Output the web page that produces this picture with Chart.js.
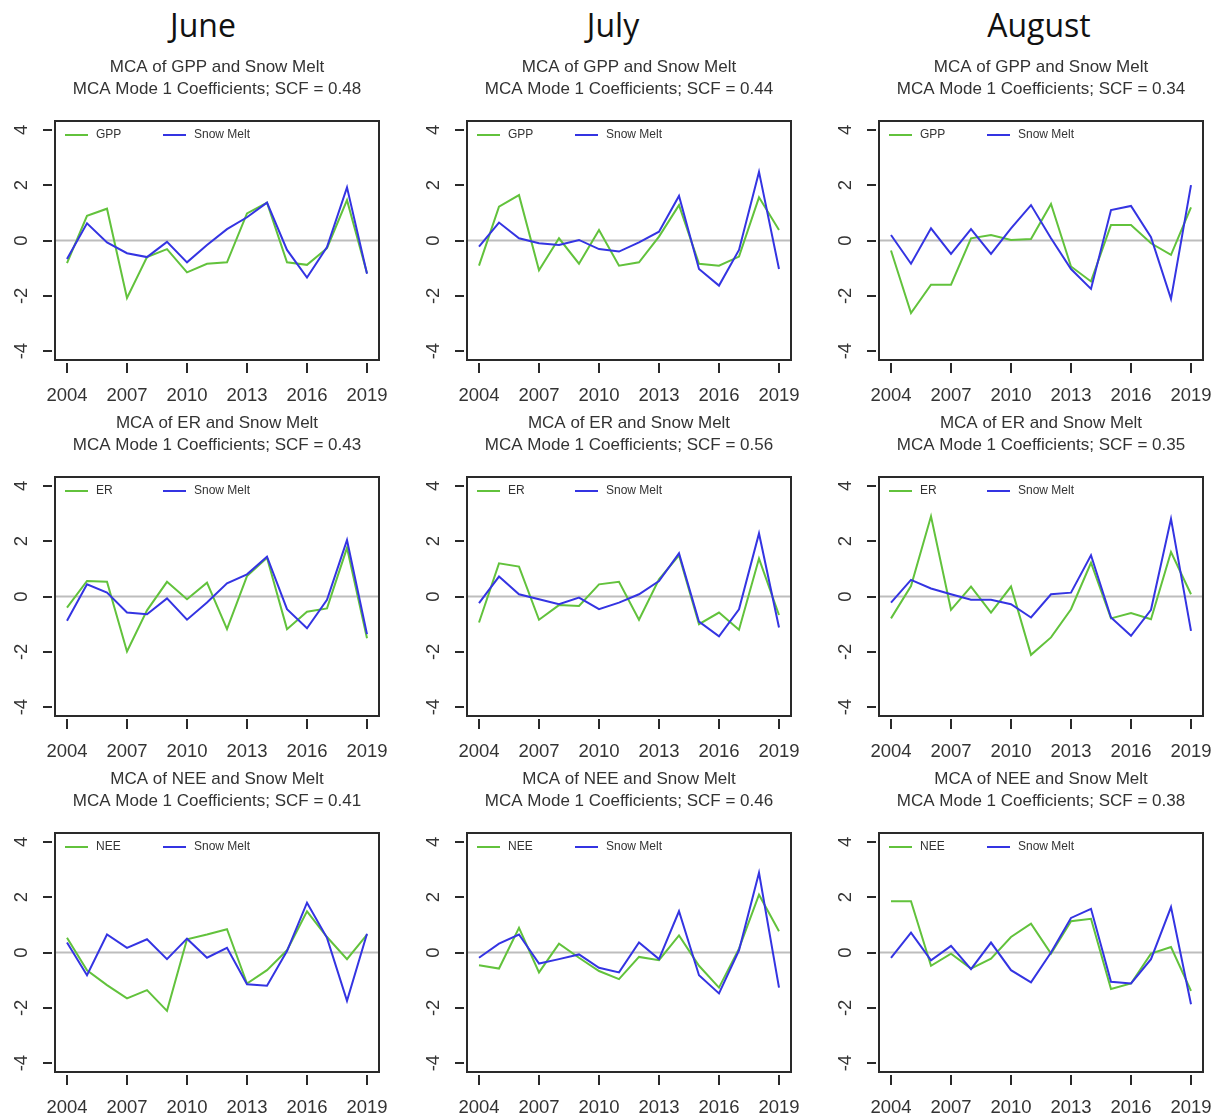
<!DOCTYPE html>
<html>
<head>
<meta charset="utf-8">
<script src="https://cdn.jsdelivr.net/npm/chart.js@4.4.0/dist/chart.umd.min.js"></script>
<style>
  html, body { margin: 0; padding: 0; background: #ffffff; }
  body { width: 1220px; height: 1116px; position: relative; overflow: hidden; }
  .month { position: absolute; top: 4px; font-family: "Open Sans", "DejaVu Sans", sans-serif; font-size: 32px; line-height: 42px; color: #111; transform: translateX(-50%); white-space: nowrap; }
  canvas { position: absolute; }
</style>
</head>
<body>
<script>
// ---------------- data ----------------
const years = [2004, 2005, 2006, 2007, 2008, 2009, 2010, 2011, 2012, 2013, 2014, 2015, 2016, 2017, 2018, 2019];
const xTickYears = [2004, 2007, 2010, 2013, 2016, 2019];
const yTickValues = [-4, -2, 0, 2, 4];
const months = ['June', 'July', 'August'];
const variables = ['GPP', 'ER', 'NEE'];
const snowLabel = 'Snow Melt';

const scfGPP = [0.48, 0.44, 0.34];
const scfER  = [0.43, 0.56, 0.35];
const scfNEE = [0.41, 0.46, 0.38];

const juneGPP      = [-0.82, 0.89, 1.15, -2.08, -0.60, -0.31, -1.15, -0.84, -0.79, 0.98, 1.37, -0.79, -0.88, -0.28, 1.46, -1.18];
const juneGPPSnow  = [-0.67, 0.62, -0.07, -0.46, -0.60, -0.05, -0.79, -0.16, 0.41, 0.84, 1.37, -0.34, -1.34, -0.24, 1.92, -1.20];
const julyGPP      = [-0.91, 1.22, 1.64, -1.08, 0.08, -0.84, 0.38, -0.91, -0.79, 0.14, 1.28, -0.84, -0.91, -0.58, 1.56, 0.38];
const julyGPPSnow  = [-0.22, 0.65, 0.08, -0.10, -0.16, 0.02, -0.31, -0.40, -0.07, 0.32, 1.61, -1.03, -1.63, -0.34, 2.48, -1.03];
const augGPP       = [-0.36, -2.62, -1.60, -1.60, 0.08, 0.20, 0.02, 0.05, 1.32, -0.94, -1.48, 0.56, 0.56, -0.10, -0.52, 1.20];
const augGPPSnow   = [0.20, -0.84, 0.44, -0.48, 0.41, -0.48, 0.44, 1.28, 0.08, -1.03, -1.75, 1.10, 1.25, 0.12, -2.11, 2.00];

const juneER       = [-0.40, 0.56, 0.53, -1.99, -0.50, 0.53, -0.10, 0.50, -1.18, 0.74, 1.40, -1.18, -0.55, -0.43, 1.76, -1.51];
const juneERSnow   = [-0.88, 0.44, 0.14, -0.58, -0.64, -0.07, -0.84, -0.22, 0.48, 0.80, 1.44, -0.46, -1.15, -0.12, 2.04, -1.36];
const julyER       = [-0.94, 1.20, 1.08, -0.84, -0.31, -0.34, 0.44, 0.53, -0.84, 0.62, 1.49, -1.00, -0.58, -1.20, 1.37, -0.67];
const julyERSnow   = [-0.24, 0.72, 0.08, -0.10, -0.28, -0.04, -0.46, -0.22, 0.08, 0.56, 1.56, -0.91, -1.44, -0.46, 2.28, -1.12];
const augER        = [-0.79, 0.38, 2.90, -0.48, 0.36, -0.58, 0.36, -2.11, -1.48, -0.46, 1.22, -0.79, -0.60, -0.82, 1.61, 0.08];
const augERSnow    = [-0.22, 0.60, 0.29, 0.08, -0.12, -0.12, -0.28, -0.76, 0.08, 0.14, 1.49, -0.76, -1.42, -0.48, 2.81, -1.24];

const juneNEE      = [0.53, -0.64, -1.18, -1.66, -1.36, -2.11, 0.48, 0.65, 0.84, -1.12, -0.64, 0.08, 1.49, 0.56, -0.24, 0.65];
const juneNEESnow  = [0.36, -0.82, 0.65, 0.17, 0.48, -0.24, 0.50, -0.19, 0.17, -1.15, -1.20, 0.05, 1.80, 0.53, -1.75, 0.68];
const julyNEE      = [-0.46, -0.58, 0.89, -0.72, 0.32, -0.19, -0.67, -0.96, -0.16, -0.28, 0.62, -0.48, -1.27, 0.14, 2.09, 0.77];
const julyNEESnow  = [-0.19, 0.32, 0.65, -0.40, -0.24, -0.07, -0.55, -0.72, 0.36, -0.24, 1.49, -0.82, -1.48, 0.08, 2.88, -1.27];
const augNEE       = [1.85, 1.85, -0.48, -0.04, -0.58, -0.22, 0.56, 1.04, -0.04, 1.13, 1.22, -1.32, -1.12, -0.04, 0.20, -1.39];
const augNEESnow   = [-0.19, 0.72, -0.28, 0.24, -0.60, 0.36, -0.64, -1.08, 0.00, 1.25, 1.58, -1.06, -1.12, -0.24, 1.64, -1.87];

// ---------------- layout / style ----------------
const GREEN = '#62c23c';
const BLUE = '#3434e2';
const FRAME = '#2a2a2a';
const TEXT = '#333333';
const SANS = '"Liberation Sans", Arial, sans-serif';
const BOX_W = 324, BOX_H = 239;
const PAD_L = 50, PAD_R = 12, TITLE_H = 70, XAXIS_H = 44;
const colLeft = [55, 467, 879];
const rowTop = [121, 477, 833];
const monthCenter = [203, 613, 1039];

months.forEach((m, i) => {
  const d = document.createElement('div');
  d.className = 'month';
  d.style.left = monthCenter[i] + 'px';
  d.textContent = m;
  document.body.appendChild(d);
});

const rFrame = {
  id: 'rFrame',
  beforeDatasetsDraw(chart) {
    const {ctx, chartArea: a, scales: {y}} = chart;
    const y0 = y.getPixelForValue(0);
    ctx.save();
    ctx.strokeStyle = '#bdbdbd';
    ctx.lineWidth = 2;
    ctx.beginPath();
    ctx.moveTo(a.left, y0);
    ctx.lineTo(a.right, y0);
    ctx.stroke();
    ctx.restore();
  },
  afterDatasetsDraw(chart) {
    const {ctx, chartArea: a, scales: {x, y}} = chart;
    ctx.save();
    ctx.strokeStyle = FRAME;
    ctx.lineWidth = 2;
    ctx.strokeRect(a.left, a.top, a.right - a.left, a.bottom - a.top);
    // x tick marks
    ctx.beginPath();
    x.ticks.forEach(t => {
      const px = Math.round(x.getPixelForValue(t.value));
      ctx.moveTo(px, a.bottom + 3);
      ctx.lineTo(px, a.bottom + 13);
    });
    // y tick marks
    yTickValues.forEach(v => {
      const py = Math.round(y.getPixelForValue(v));
      ctx.moveTo(a.left - 3, py);
      ctx.lineTo(a.left - 12, py);
    });
    ctx.stroke();
    // y tick labels (rotated, R style)
    ctx.fillStyle = TEXT;
    ctx.font = '18.5px ' + SANS;
    ctx.textAlign = 'center';
    ctx.textBaseline = 'middle';
    yTickValues.forEach(v => {
      const py = y.getPixelForValue(v);
      ctx.save();
      ctx.translate(a.left - 33, py);
      ctx.rotate(-Math.PI / 2);
      ctx.fillText(String(v), 0, 0);
      ctx.restore();
    });
    // legend inside plot, top-left
    const offs = [10, 108];
    ctx.font = '12px ' + SANS;
    ctx.textAlign = 'left';
    chart.data.datasets.forEach((ds, i) => {
      const x0 = a.left + offs[i];
      const ly = a.top + 14;
      ctx.strokeStyle = ds.borderColor;
      ctx.lineWidth = 2;
      ctx.beginPath();
      ctx.moveTo(x0, ly);
      ctx.lineTo(x0 + 23, ly);
      ctx.stroke();
      ctx.fillStyle = TEXT;
      ctx.fillText(ds.label, x0 + 31, ly);
    });
    ctx.restore();
  }
};

function makePanel(col, row, varName, varVals, snowVals, scf) {
  const cv = document.createElement('canvas');
  const w = PAD_L + BOX_W + PAD_R;
  const h = TITLE_H + BOX_H + XAXIS_H;
  cv.width = w; cv.height = h;
  cv.style.width = w + 'px'; cv.style.height = h + 'px';
  cv.style.left = (colLeft[col] - PAD_L) + 'px';
  cv.style.top = (rowTop[row] - TITLE_H) + 'px';
  document.body.appendChild(cv);
  const toXY = vals => years.map((yr, i) => ({x: yr, y: vals[i]}));
  new Chart(cv, {
    type: 'line',
    data: {
      datasets: [
        {label: varName, data: toXY(varVals), borderColor: GREEN, borderWidth: 2, pointRadius: 0, tension: 0, fill: false, order: 2},
        {label: snowLabel, data: toXY(snowVals), borderColor: BLUE, borderWidth: 2, pointRadius: 0, tension: 0, fill: false, order: 1}
      ]
    },
    options: {
      responsive: false,
      devicePixelRatio: 1,
      animation: false,
      events: [],
      layout: {padding: {left: PAD_L, right: PAD_R, top: 0, bottom: 0}},
      plugins: {
        legend: {display: false},
        tooltip: {enabled: false},
        title: {
          display: true,
          text: ['MCA of ' + varName + ' and ' + snowLabel, 'MCA Mode 1 Coefficients; SCF = ' + scf.toFixed(2)],
          color: TEXT,
          font: {family: SANS, size: 17, weight: 'normal', lineHeight: 22 / 17},
          padding: {top: 5, bottom: 21}
        }
      },
      scales: {
        x: {
          type: 'linear',
          min: 2003.4,
          max: 2019.6,
          grid: {display: false, drawTicks: false},
          border: {display: false},
          afterBuildTicks: s => { s.ticks = xTickYears.map(v => ({value: v})); },
          afterFit: s => { s.height = XAXIS_H; s.paddingLeft = 0; s.paddingRight = 0; },
          ticks: {
            autoSkip: false, maxRotation: 0, minRotation: 0,
            padding: 25,
            color: TEXT,
            font: {family: SANS, size: 18.5},
            callback: v => String(v)
          }
        },
        y: {
          type: 'linear',
          display: false,
          min: -4.32,
          max: 4.32
        }
      }
    },
    plugins: [rFrame]
  });
}

const varSets = [
  [juneGPP, juneGPPSnow, julyGPP, julyGPPSnow, augGPP, augGPPSnow],
  [juneER, juneERSnow, julyER, julyERSnow, augER, augERSnow],
  [juneNEE, juneNEESnow, julyNEE, julyNEESnow, augNEE, augNEESnow]
];
const scfSets = [scfGPP, scfER, scfNEE];

variables.forEach((v, r) => {
  for (let c = 0; c < 3; c++) {
    makePanel(c, r, v, varSets[r][c * 2], varSets[r][c * 2 + 1], scfSets[r][c]);
  }
});
</script>
</body>
</html>
